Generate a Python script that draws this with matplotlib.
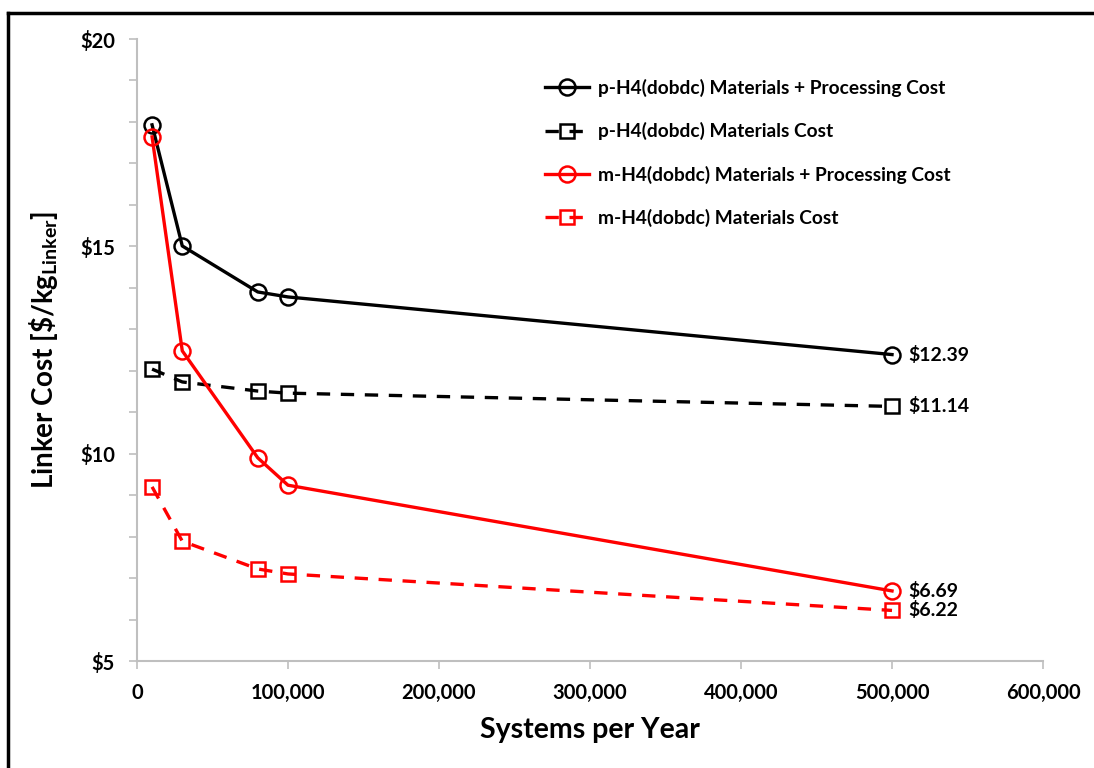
import matplotlib
matplotlib.use('Agg')
import matplotlib.pyplot as plt
from matplotlib.ticker import MultipleLocator, FuncFormatter
from matplotlib.lines import Line2D

plt.rcParams['font.family'] = ['Lato', 'DejaVu Sans']
plt.rcParams['font.weight'] = 'bold'
plt.rcParams['mathtext.fontset'] = 'custom'
plt.rcParams['mathtext.rm'] = 'Lato:bold'
plt.rcParams['mathtext.bf'] = 'Lato:bold'
plt.rcParams['mathtext.it'] = 'Lato:bold'

systems = [10000, 30000, 80000, 100000, 500000]
p_total = [17.93, 15.01, 13.90, 13.78, 12.39]
p_mat = [12.04, 11.73, 11.51, 11.46, 11.14]
m_total = [17.64, 12.48, 9.90, 9.24, 6.69]
m_mat = [9.20, 7.89, 7.22, 7.10, 6.22]

labels = ['p-H4(dobdc) Materials + Processing Cost',
          'p-H4(dobdc) Materials Cost',
          'm-H4(dobdc) Materials + Processing Cost',
          'm-H4(dobdc) Materials Cost']

fig = plt.figure(figsize=(10.94, 7.68), dpi=100)
ax = fig.add_axes([0.1252, 0.1393, 0.8282, 0.8099])

dash = (4, 3.2)
series = [
    (p_total, 'black', '-', 'o', 11.5),
    (p_mat, 'black', '--', 's', 10),
    (m_total, 'red', '-', 'o', 11.5),
    (m_mat, 'red', '--', 's', 10),
]
for (vals, col, ls, mk, ms), lab in zip(series, labels):
    line, = ax.plot(systems, vals, color=col, lw=2.4, ls=ls, marker=mk, ms=ms,
                    mfc='none', mec=col, mew=1.8, label=lab)
    if ls == '--':
        line.set_dashes(dash)
    ax.annotate('\\$%.2f' % vals[-1], xy=(systems[-1], vals[-1]), xytext=(12, 0),
                textcoords='offset points', va='center', ha='left',
                fontsize=14, fontweight='bold')

ax.set_xlim(0, 600000)
ax.set_ylim(5, 20)
ax.xaxis.set_major_locator(MultipleLocator(100000))
ax.yaxis.set_major_locator(MultipleLocator(5))
ax.yaxis.set_minor_locator(MultipleLocator(1))
ax.xaxis.set_major_formatter(FuncFormatter(lambda v, p: '{:,.0f}'.format(v)))
ax.yaxis.set_major_formatter(FuncFormatter(lambda v, p: '\\$%d' % v))

for s in ['top', 'right']:
    ax.spines[s].set_visible(False)
for s in ['left', 'bottom']:
    ax.spines[s].set_color('#BFBFBF')
    ax.spines[s].set_linewidth(1.5)
ax.tick_params(axis='both', which='both', direction='out', color='#BFBFBF', width=1.2)
ax.tick_params(axis='both', which='major', length=6, labelsize=14.5, pad=10)
ax.tick_params(axis='y', which='minor', length=6)

ax.set_xlabel('Systems per Year', fontsize=20.5, fontweight='bold', labelpad=10)
ax.set_ylabel('Linker Cost [\\$/kg$_{\\mathrm{Linker}}$]', fontsize=20, fontweight='bold')
ax.yaxis.set_label_coords(-0.085, 0.5)

ax.legend(loc='upper left', bbox_to_anchor=(0.450, 0.936), frameon=False,
          borderpad=0, borderaxespad=0, fontsize=13.8, handlelength=2.3,
          handletextpad=0.5, labelspacing=1.32, numpoints=1)

# outer frame like the pasted chart object
fig.add_artist(Line2D([0.0073, 0.0073], [0, 0.983], color='black', lw=2.5,
                      transform=fig.transFigure))
fig.add_artist(Line2D([0.0073, 1], [0.983, 0.983], color='black', lw=2.5,
                      transform=fig.transFigure))

fig.savefig('out.png', dpi=100)
